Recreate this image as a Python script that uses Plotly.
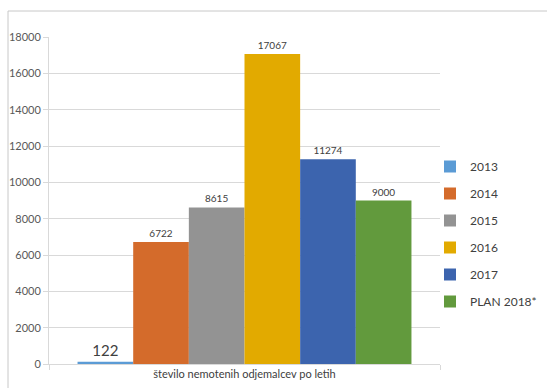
import plotly.graph_objects as go

category = ["število nemotenih odjemalcev po letih"]
series_names = ["2013", "2014", "2015", "2016", "2017", "PLAN 2018*"]
values = [122, 6722, 8615, 17067, 11274, 9000]
colors = ["#5B9BD5", "#D46B2B", "#939393", "#E2AA00", "#3C64AE", "#629A3D"]
label_sizes = [15, 10, 10, 10, 10, 10]

FONT = "Lato, 'Open Sans', sans-serif"

fig = go.Figure()
for i, (name, v, c, fs) in enumerate(zip(series_names, values, colors, label_sizes)):
    fig.add_trace(go.Bar(
        x=category, y=[v], name=name,
        marker=dict(color=c, line=dict(width=0)),
        text=[str(v)], textposition="outside",
        textfont=dict(size=fs, color="#404040", family=FONT),
        legendgroup=f"g{i}",
        cliponaxis=False,
    ))

W, H = 547, 388
L, R, T, B = 49, 107, 37, 24
pw, ph = W - L - R, H - T - B

def px(xp):
    return (xp - L) / pw

def py(yp):
    return 1 - (yp - T) / ph

fig.update_layout(
    width=W, height=H,
    margin=dict(l=L, r=R, t=T, b=B, autoexpand=False),
    paper_bgcolor="white", plot_bgcolor="white",
    barmode="group", bargap=0.146, bargroupgap=0,
    font=dict(family=FONT, size=11, color="#595959"),
    showlegend=True,
    legend=dict(
        x=px(430), y=py(152), xanchor="left", yanchor="top",
        font=dict(size=12, color="#404040", family=FONT),
        tracegroupgap=8, itemwidth=30,
        bgcolor="rgba(0,0,0,0)",
    ),
    xaxis=dict(
        showline=True, linecolor="#d9d9d9", linewidth=1,
        ticks="outside", ticklen=5, tickcolor="#d9d9d9", tickson="boundaries",
        tickfont=dict(size=11, color="#404040"),
        showgrid=False, automargin=False,
    ),
    yaxis=dict(
        range=[0, 18000], dtick=2000, tick0=0, tickformat="d",
        showgrid=True, gridcolor="#d9d9d9", gridwidth=1,
        showline=True, linecolor="#d9d9d9", linewidth=1,
        ticks="outside", ticklen=5, tickcolor="#d9d9d9",
        tickfont=dict(size=11, color="#595959"),
        zeroline=False, automargin=False,
    ),
    shapes=[
        dict(type="line", xref="paper", yref="paper",
             x0=px(8), x1=px(560), y0=py(11), y1=py(11),
             line=dict(color="#c8c8c8", width=1)),
        dict(type="line", xref="paper", yref="paper",
             x0=px(8), x1=px(8), y0=py(11), y1=py(400),
             line=dict(color="#c8c8c8", width=1)),
    ],
)

fig.write_html("out.html")
